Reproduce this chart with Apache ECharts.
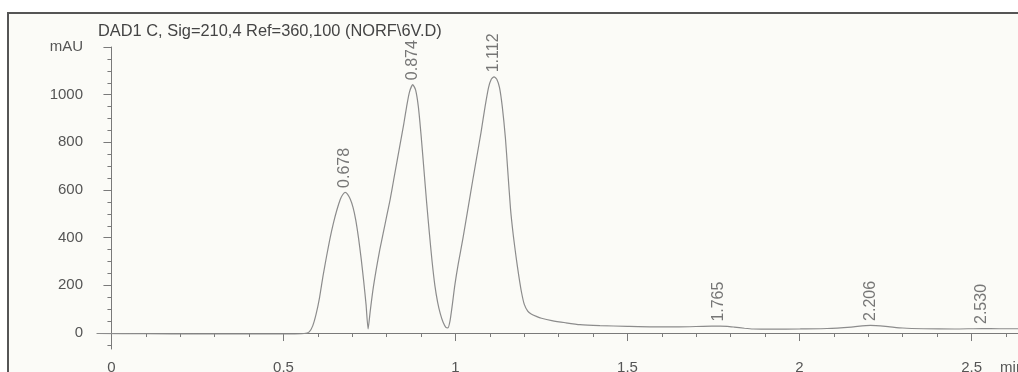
<!DOCTYPE html>
<html>
<head>
<meta charset="utf-8">
<script src="https://cdn.jsdelivr.net/npm/echarts@6/dist/echarts.min.js"></script>
<style>
  html, body { margin: 0; padding: 0; background: #fff; }
  #chart { width: 1018px; height: 372px; }
</style>
</head>
<body>
<div id="chart"></div>
<script>
// retention time (min) and signal (mAU)
var times = [-0.042, 0.10, 0.25, 0.40, 0.52, 0.56, 0.575, 0.585, 0.595, 0.605, 0.615, 0.625, 0.635, 0.645,
    0.655, 0.665, 0.672, 0.679, 0.686, 0.694, 0.702, 0.710, 0.718, 0.726, 0.733, 0.740, 0.746,
    0.752, 0.760, 0.770, 0.780, 0.790, 0.800, 0.810, 0.820, 0.830, 0.840, 0.850, 0.858, 0.866, 0.876,
    0.884, 0.892, 0.900, 0.908, 0.916, 0.924, 0.932, 0.940, 0.948, 0.956, 0.964, 0.972, 0.978, 0.984,
    0.990, 0.998, 1.008, 1.022, 1.036, 1.050, 1.062, 1.074, 1.086, 1.096, 1.104, 1.112, 1.120, 1.128,
    1.136, 1.145, 1.152, 1.160, 1.168, 1.176, 1.184, 1.192, 1.200, 1.210, 1.220, 1.235, 1.25,
    1.28, 1.32, 1.362, 1.42, 1.50, 1.574, 1.65, 1.72, 1.769, 1.79, 1.81, 1.84, 1.865, 1.92, 2.00,
    2.08, 2.15, 2.206, 2.25, 2.30, 2.36, 2.45, 2.53, 2.58, 2.64];
var signal = [-2, -3, -4, -4, -4, -2, 5, 30, 80, 150, 240, 320, 395, 460,
    515, 560, 580, 590, 583, 562, 528, 475, 400, 310, 220, 120, 17,
    90, 180, 270, 350, 420, 490, 560, 640, 720, 800, 880, 950, 1010, 1042,
    1020, 950, 830, 690, 550, 420, 300, 200, 130, 80, 45, 24, 22, 50,
    110, 200, 290, 400, 520, 640, 740, 840, 950, 1030, 1065, 1075, 1065, 1030,
    950, 820, 680, 520, 410, 320, 240, 170, 120, 92, 80, 70, 62,
    52, 43, 35, 31, 28, 26, 26, 28, 29, 28, 25, 20, 17, 16, 17,
    19, 25, 32, 28, 21, 18, 17, 19, 18, 18];

// integrated peaks
var peakTimes = [0.678, 0.874, 1.112, 1.765, 2.206, 2.530];
var peakHeights = [590, 1042, 1075, 29, 32, 19];

var yTicks = [0, 200, 400, 600, 800, 1000, 1200];
var yMinor = [-50, 50, 100, 150, 250, 300, 350, 450, 500, 550, 650, 700, 750, 850, 900, 950, 1050, 1100, 1150];
var xTicks = [0, 0.5, 1, 1.5, 2, 2.5];
var xMinor = [0.1, 0.2, 0.3, 0.4, 0.6, 0.7, 0.8, 0.9, 1.1, 1.2, 1.3, 1.4, 1.6, 1.7, 1.8, 1.9, 2.1, 2.2, 2.3, 2.4, 2.6];
var xUnitAt = 2.618;   // where the "min" unit label sits, after the last tick label

var trace = times.map(function (t, i) { return [t, signal[i]]; });
var peaks = peakTimes.map(function (t, i) { return [t, peakHeights[i]]; });

var dom = document.getElementById('chart');
var myChart = echarts.init(dom);

var axisColor = '#7a7a7a';
var textColor = '#555';
var font = 'Liberation Sans, Arial, sans-serif';

var option = {
    backgroundColor: '#fff',
    animation: false,
    title: {
        text: 'DAD1 C, Sig=210,4 Ref=360,100 (NORF\\6V.D)',
        left: 93,
        top: 18,
        textStyle: { color: '#444', fontSize: 16.4, fontWeight: 'normal', fontFamily: font }
    },
    graphic: [{
        type: 'rect',
        z: -100,
        silent: true,
        shape: { x: 8, y: 13, width: 1030, height: 380 },
        style: { fill: '#fbfbf7', stroke: '#555', lineWidth: 2 }
    }],
    grid: { left: 97, right: 0, top: 47, bottom: 23, outerBoundsMode: 'none' },
    xAxis: [
        {
            type: 'value',
            min: -0.042,
            max: 2.635,
            axisLine: { lineStyle: { color: axisColor, width: 1 } },
            axisTick: { customValues: xTicks, length: 8, lineStyle: { color: axisColor } },
            axisLabel: { customValues: xTicks.concat([xUnitAt]), color: textColor, fontSize: 15, fontFamily: font, margin: 11,
                showMaxLabel: true,
                formatter: function (v) { return v === xUnitAt ? 'min' : String(v); } },
            splitLine: { show: false }
        },
        {
            type: 'value',
            position: 'bottom',
            min: -0.042,
            max: 2.635,
            axisLine: { show: false },
            axisTick: { customValues: xMinor, length: 4, lineStyle: { color: axisColor } },
            axisLabel: { show: false },
            splitLine: { show: false }
        }
    ],
    yAxis: [
        {
            type: 'value',
            min: -67,
            max: 1200,
            axisLine: { show: true, lineStyle: { color: axisColor, width: 1 } },
            axisTick: { show: true, customValues: yTicks, length: 8, lineStyle: { color: axisColor } },
            axisLabel: { customValues: yTicks, color: textColor, fontSize: 15, fontFamily: font, margin: 14,
                formatter: function (v) { return v === 1200 ? 'mAU' : String(v); } },
            splitLine: { show: false }
        },
        {
            type: 'value',
            position: 'left',
            min: -67,
            max: 1200,
            axisLine: { show: false },
            axisTick: { show: true, customValues: yMinor, length: 4, lineStyle: { color: axisColor } },
            axisLabel: { show: false },
            splitLine: { show: false }
        }
    ],
    series: [
        {
            name: 'DAD1 C',
            type: 'line',
            data: trace,
            showSymbol: false,
            smooth: 0.2,
            lineStyle: { color: '#8c8c8c', width: 1.2 },
            z: 3
        },
        {
            name: 'peaks',
            type: 'scatter',
            data: peaks,
            symbolSize: 1,
            itemStyle: { color: 'transparent' },
            label: {
                show: true,
                position: 'top',
                distance: 4,
                rotate: 90,
                align: 'left',
                verticalAlign: 'middle',
                color: textColor,
                fontSize: 16,
                fontFamily: font,
                formatter: function (p) { return p.value[0].toFixed(3); }
            },
            z: 4
        }
    ]
};

if (option && typeof option === 'object') {
    myChart.setOption(option, true);
}
</script>
</body>
</html>
